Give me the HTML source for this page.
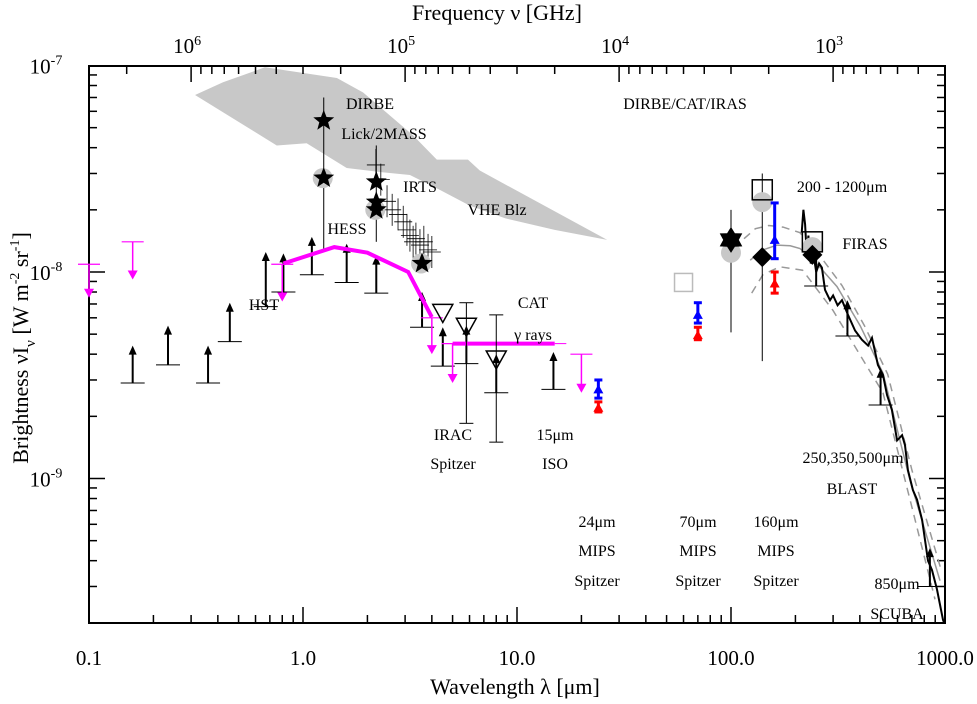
<!DOCTYPE html>
<html><head><meta charset="utf-8"><style>
html,body{margin:0;padding:0;background:#fff}
svg text{font-family:"Liberation Serif",serif;fill:#000}
</style></head><body>
<svg id="chart" width="977" height="699" viewBox="0 0 977 699" xmlns="http://www.w3.org/2000/svg"></svg>
<script>
// ---- data ----
const bandLam=[0.313,0.423,0.664,1.44,1.91,3.26,4.22,5.9,6.7,26.4,15.0,8.8,6.0,4.36,3.16,2.29,1.60,1.04,0.754];
const bandVal=[7.2e-8,8.3e-8,9.8e-8,8.7e-8,7.4e-8,4.6e-8,3.5e-8,3.5e-8,3.1e-8,1.43e-8,1.6e-8,1.82e-8,2.1e-8,2.5e-8,2.95e-8,3.05e-8,3.19e-8,4.2e-8,4.1e-8];
const llLam=[0.16,0.234,0.36,0.455,0.67,0.81,1.1,1.6,2.2,3.6,4.5,5.8,8.0,14.8,250,350,500,850];
const llTip=[4.4e-9,5.5e-9,4.4e-9,7.1e-9,1.25e-8,1.23e-8,1.48e-8,1.37e-8,1.2e-8,8.0e-9,5.4e-9,5.5e-9,4.0e-9,4.1e-9,1.3e-8,7.3e-9,3.4e-9,4.6e-10];
const llBase=[2.9e-9,3.55e-9,2.9e-9,4.6e-9,6.8e-9,8.0e-9,9.7e-9,8.9e-9,7.9e-9,5.4e-9,3.5e-9,3.6e-9,2.6e-9,2.7e-9,8.55e-9,4.9e-9,2.27e-9,3.0e-10];
const ulLam=[0.1,0.16,0.8,4.0,5.0,20];
const ulTop=[1.09e-8,1.4e-8,1.09e-8,6.0e-9,4.5e-9,4.0e-9];
const ulTip=[7.5e-9,9.2e-9,7.2e-9,4.0e-9,2.9e-9,2.6e-9];
const hessLam=[0.81,1.4,2.0,3.1,4.0];
const hessVal=[1.1e-8,1.32e-8,1.24e-8,1.0e-8,6.05e-9];
const catLam=[5.0,15.0];
const catVal=[4.5e-9,4.5e-9];
const triLam=[4.5,5.8,8.0];
const triVal=[6.3e-9,5.4e-9,3.75e-9];
const triHi=[6.3e-9,7.1e-9,6.2e-9];
const triLo=[6.3e-9,1.85e-9,1.5e-9];
const starLam=[1.25,1.25,2.2,2.2,2.2,3.6];
const starVal=[5.4e-8,2.85e-8,2.73e-8,2.18e-8,2.0e-8,1.1e-8];
const irtsLam=[2.19,2.31,2.47,2.61,2.78,2.94,3.06,3.16,3.27,3.37,3.52,3.67,3.84,4.0];
const irtsVal=[3.3e-8,2.8e-8,2.2e-8,2.0e-8,1.9e-8,1.75e-8,1.6e-8,1.5e-8,1.4e-8,1.45e-8,1.35e-8,1.4e-8,1.28e-8,1.25e-8];
const firasLam=[214,218,222,226,230,236,242,250,258,266,275,290,300,315,330,352,380,409,437,456,486,513,536,565,597,630,650,671,708,740,782,833,869,918,979,990];
const firasVal=[1.55e-8,2.0e-8,1.7e-8,1.2e-8,1.5e-8,1.1e-8,1.25e-8,1.0e-8,1.1e-8,1.05e-8,8.2e-9,7.3e-9,7.7e-9,6.9e-9,7.3e-9,6.2e-9,5.2e-9,4.7e-9,4.4e-9,4.8e-9,3.55e-9,3.17e-9,2.54e-9,2.15e-9,1.53e-9,1.62e-9,1.45e-9,1.1e-9,8.8e-10,7.9e-10,6.3e-10,4.0e-10,3.6e-10,2.9e-10,2.07e-10,2.0e-10];
const modLam=[123,141,164,189,210,247,313,401,513,686,948];
const modVal=[1.14e-8,1.28e-8,1.35e-8,1.34e-8,1.3e-8,1.12e-8,8.5e-9,5.5e-9,3.24e-9,9.8e-10,3.2e-10];
const upLam=[115,130,150,175,210,260,330,420,540,700,960];
const upVal=[1.45e-8,1.62e-8,1.68e-8,1.65e-8,1.55e-8,1.2e-8,8.6e-9,5.5e-9,3.2e-9,1.1e-9,3.6e-10];
const loLam=[125,141,169,216,300,513,686,898];
const loVal=[7.9e-9,9.7e-9,1.06e-8,1.02e-8,6.5e-9,2.6e-9,7.9e-10,2.6e-10];
const mipsLam=[24,24,70,70,160,160];
const mipsVal=[2.7e-9,2.2e-9,6.2e-9,4.95e-9,1.43e-8,8.8e-9];
const mipsHi=[3.0e-9,2.35e-9,7.1e-9,5.4e-9,2.16e-8,1.0e-8];
const mipsLo=[2.45e-9,2.1e-9,5.66e-9,4.7e-9,1.16e-8,7.9e-9];
const mipsCol=['#0000ff','#ff0000','#0000ff','#ff0000','#0000ff','#ff0000'];
const xTickLabels=['0.1','1.0','10.0','100.0','1000.0'];
const yTickExp=[-7,-8,-9];
const topTickExp=[6,5,4,3];

// ---- axes ----
const L=89,R=945,T=66,B=623;
const X=l=>L+214*Math.log10(l/0.1);
const Y=v=>272-206.5*(Math.log10(v)+8);
const svg=document.getElementById('chart');
const NS='http://www.w3.org/2000/svg';
function mk(tag,attrs,name,parent){
  const e=document.createElementNS(NS,tag);
  for(const k in attrs)e.setAttribute(k,attrs[k]);
  
  
  (parent||svg).appendChild(e);return e;
}
function line(x1,y1,x2,y2,st,w,name){return mk('line',{x1,y1,x2,y2,stroke:st,'stroke-width':w},name);}
function txt(x,y,s,size,name,anchor){const t=mk('text',{x,y,'font-size':size,'text-anchor':anchor||'middle'},name);t.textContent=s;return t;}
function poly(lams,vals,attrs,name){
  const pts=lams.map((l,i)=>X(l).toFixed(1)+','+Y(vals[i]).toFixed(1)).join(' ');
  return mk('polyline',Object.assign({points:pts,fill:'none'},attrs),name);
}

// band
mk('polygon',{points:bandLam.map((l,i)=>X(l)+','+Y(bandVal[i])).join(' '),fill:'#c8c8c8'},'dirbe-band');

// frame
mk('rect',{x:L,y:T,width:R-L,height:B-T,fill:'none',stroke:'#000','stroke-width':2},'plot-frame');
for(let d=-1;d<3;d++){for(let k=1;k<=9;k++){const x=X(k*Math.pow(10,d));const len=k==1?16:8;
  line(x,B,x,B-len,'#000',1.5,'x-tick');}}
line(R,B,R,B-16,'#000',1.5,'x-tick');
xTickLabels.forEach((s,i)=>txt(X(0.1*Math.pow(10,i)),665,s,21,'x-tick-label'));
for(let e=2;e<7;e++){for(let k=1;k<=9;k++){const lam=3e5/(k*Math.pow(10,e));if(lam<0.1||lam>1000)continue;
  const x=X(lam);const len=k==1?16:8;line(x,T,x,T+len,'#000',1.5,'top-tick');}}
topTickExp.forEach(e=>{const x=X(3e5/Math.pow(10,e));const t=txt(x-4,53,'10',21,'top-tick-label');
  const s=document.createElementNS(NS,'tspan');s.setAttribute('dy','-8');s.setAttribute('font-size','14');s.textContent=String(e);t.appendChild(s);});
for(let d=-10;d<-7;d++){for(let k=1;k<=9;k++){const v=k*Math.pow(10,d);if(v<2e-10)continue;const y=Y(v);const len=k==1?16:8;
  line(L,y,L+len,y,'#000',1.5,'y-tick');line(R,y,R-len,y,'#000',1.5,'y-tick-right');}}
yTickExp.forEach(e=>{const y=Y(Math.pow(10,e));const t=txt(46,y+8,'10',21,'y-tick-label');
  const s=document.createElementNS(NS,'tspan');s.setAttribute('dy','-9');s.setAttribute('font-size','14');s.textContent=String(e);t.appendChild(s);});
txt(497,20,'Frequency \u03BD [GHz]',22,'top-axis-title');
txt(515,694,'Wavelength \u03BB [\u03BCm]',22,'x-axis-title');
const yt=mk('text',{x:0,y:0,'font-size':22,'text-anchor':'middle',transform:'translate(28,348) rotate(-90)'},'y-axis-title');
yt.innerHTML='Brightness \u03BDI<tspan dy="7" font-size="15">\u03BD</tspan><tspan dy="-7"> [W m</tspan><tspan dy="-9" font-size="14">-2</tspan><tspan dy="9"> sr</tspan><tspan dy="-9" font-size="14">-1</tspan><tspan dy="9">]</tspan>';

// model curves
poly(upLam,upVal,{stroke:'#999','stroke-width':1.5,'stroke-dasharray':'8,6'},'model-upper-dashed');
poly(loLam,loVal,{stroke:'#999','stroke-width':1.5,'stroke-dasharray':'8,6'},'model-lower-dashed');
poly(modLam,modVal,{stroke:'#999','stroke-width':1.5},'model-curve');
poly(firasLam,firasVal,{stroke:'#000','stroke-width':2},'firas-spectrum');

line(X(1.25),Y(7.0e-8),X(1.25),Y(1.28e-8),'#000',1,'star-errorbar');
line(X(2.2),Y(4.1e-8),X(2.2),Y(1.4e-8),'#000',1,'star-errorbar');
irtsLam.forEach((l,i)=>{const x=X(l),y=Y(irtsVal[i]);line(x-9,y,x+9,y,'#000',0.8,'irts-point');line(x,y-16,x,y+16,'#000',0.8,'irts-point');});

function upArrow(x,yt,yb,col,w,name){line(x,yb,x,yt+6,col,w,name);
  mk('polygon',{points:`${x-4},${yt+9} ${x+4},${yt+9} ${x},${yt}`,fill:col},name+'-head');}
llLam.forEach((l,i)=>{const x=X(l),yt=Y(llTip[i]),yb=Y(llBase[i]);line(x-12,yb,x+12,yb,'#000',1,'lower-limit-cap');upArrow(x,yt,yb,'#000',2,'lower-limit-arrow');});
ulLam.forEach((l,i)=>{const x=X(l),yt=Y(ulTop[i]),yb=Y(ulTip[i]);line(x-11,yt,x+11,yt,'#ff00ff',1.2,'upper-limit-cap');
  line(x,yt,x,yb-6,'#ff00ff',1.5,'upper-limit-line');mk('polygon',{points:`${x-5},${yb-9} ${x+5},${yb-9} ${x},${yb}`,fill:'#ff00ff'},'upper-limit-head');});
poly(hessLam,hessVal,{stroke:'#ff00ff','stroke-width':4},'hess-line');
poly(catLam,catVal,{stroke:'#ff00ff','stroke-width':4},'cat-line');
line(X(15),Y(4.5e-9),X(17),Y(4.5e-9),'#ff00ff',1,'cat-line-ext');
triLam.forEach((l,i)=>{const x=X(l),y=Y(triVal[i]);
  if(triHi[i]!==triLo[i]){line(x,Y(triHi[i]),x,Y(triLo[i]),'#000',1,'triangle-errorbar');line(x-7,Y(triHi[i]),x+7,Y(triHi[i]),'#000',1,'triangle-cap');line(x-7,Y(triLo[i]),x+7,Y(triLo[i]),'#000',1,'triangle-cap');}
  mk('polygon',{points:`${x-10},${y-9} ${x+10},${y-9} ${x},${y+9}`,fill:'none',stroke:'#000','stroke-width':1.5},'cat-triangle');});
function star(x,y,r,name,n,inner){n=n||5;inner=inner||0.42;let p=[];for(let k=0;k<2*n;k++){const a=-Math.PI/2+k*Math.PI/n;const rr=k%2?r*inner:r;p.push((x+rr*Math.cos(a)).toFixed(1)+','+(y+rr*Math.sin(a)).toFixed(1));}
  mk('polygon',{points:p.join(' '),fill:'#000'},name);}
[1,4,5].forEach(i=>mk('circle',{cx:X(starLam[i])-1,cy:Y(starVal[i]),r:10,fill:'#c8c8c8'},'grey-circle'));
starLam.forEach((l,i)=>star(X(l),Y(starVal[i]),11,'star-point'));

// far-IR
mk('rect',{x:X(60)-9,y:Y(8.9e-9)-9,width:18,height:18,fill:'none',stroke:'#bbb','stroke-width':1.5},'dirbe-square-grey');
line(X(100),Y(2.0e-8),X(100),Y(5.1e-9),'#000',1,'errorbar-100');
mk('circle',{cx:X(100),cy:Y(1.24e-8),r:10,fill:'#c8c8c8'},'grey-circle-100');
star(X(100),Y(1.43e-8),13,'star-100',6,0.6);
line(X(140),Y(3.0e-8),X(140),Y(3.7e-9),'#000',1,'errorbar-140');
mk('circle',{cx:X(140),cy:Y(2.18e-8),r:10,fill:'#c8c8c8'},'grey-circle-140');
mk('rect',{x:X(140)-10,y:Y(2.5e-8)-10,width:20,height:20,fill:'none',stroke:'#000','stroke-width':1.5},'square-140');
function diamond(x,y,name){mk('polygon',{points:`${x},${y-10} ${x+10},${y} ${x},${y+10} ${x-10},${y}`,fill:'#000'},name);}
diamond(X(140),Y(1.18e-8),'diamond-140');
mk('circle',{cx:X(240),cy:Y(1.32e-8),r:10,fill:'#c8c8c8'},'grey-circle-240');
mk('rect',{x:X(240)-10,y:Y(1.4e-8)-10,width:20,height:20,fill:'none',stroke:'#000','stroke-width':1.5},'firas-square');
diamond(X(240),Y(1.21e-8),'diamond-240');
mipsLam.forEach((l,i)=>{const x=X(l),c=mipsCol[i],yh=Y(mipsHi[i]),yl=Y(mipsLo[i]),y=Y(mipsVal[i]);
  line(x,yh,x,yl,c,3,'mips-errorbar');line(x-4,yh,x+4,yh,c,3,'mips-cap');line(x-4,yl,x+4,yl,c,3,'mips-cap');
  mk('polygon',{points:`${x-5},${y+4} ${x+5},${y+4} ${x},${y-5}`,fill:c},'mips-marker');});

const labs=[['DIRBE',370,109],['Lick/2MASS',384,139],['IRTS',420,192],['HESS',347,234],['VHE Blz',497,215],['DIRBE/CAT/IRAS',685,109],
['200 - 1200\u03BCm',842,192],['FIRAS',865,249],['HST',264,310],['CAT',533,308],['\u03B3 rays',533,340],['IRAC',453,440],['Spitzer',453,469],
['15\u03BCm',555,440],['ISO',555,469],['24\u03BCm',597,527],['MIPS',597,556],['Spitzer',597,586],['70\u03BCm',698,527],['MIPS',698,556],['Spitzer',698,586],
['160\u03BCm',776,527],['MIPS',776,556],['Spitzer',776,586],['250,350,500\u03BCm',853,463],['BLAST',852,494],['850\u03BCm',897,589],['SCUBA',897,619]];
labs.forEach(a=>txt(a[1],a[2],a[0],16,'annotation-label'));
</script>
</body></html>
